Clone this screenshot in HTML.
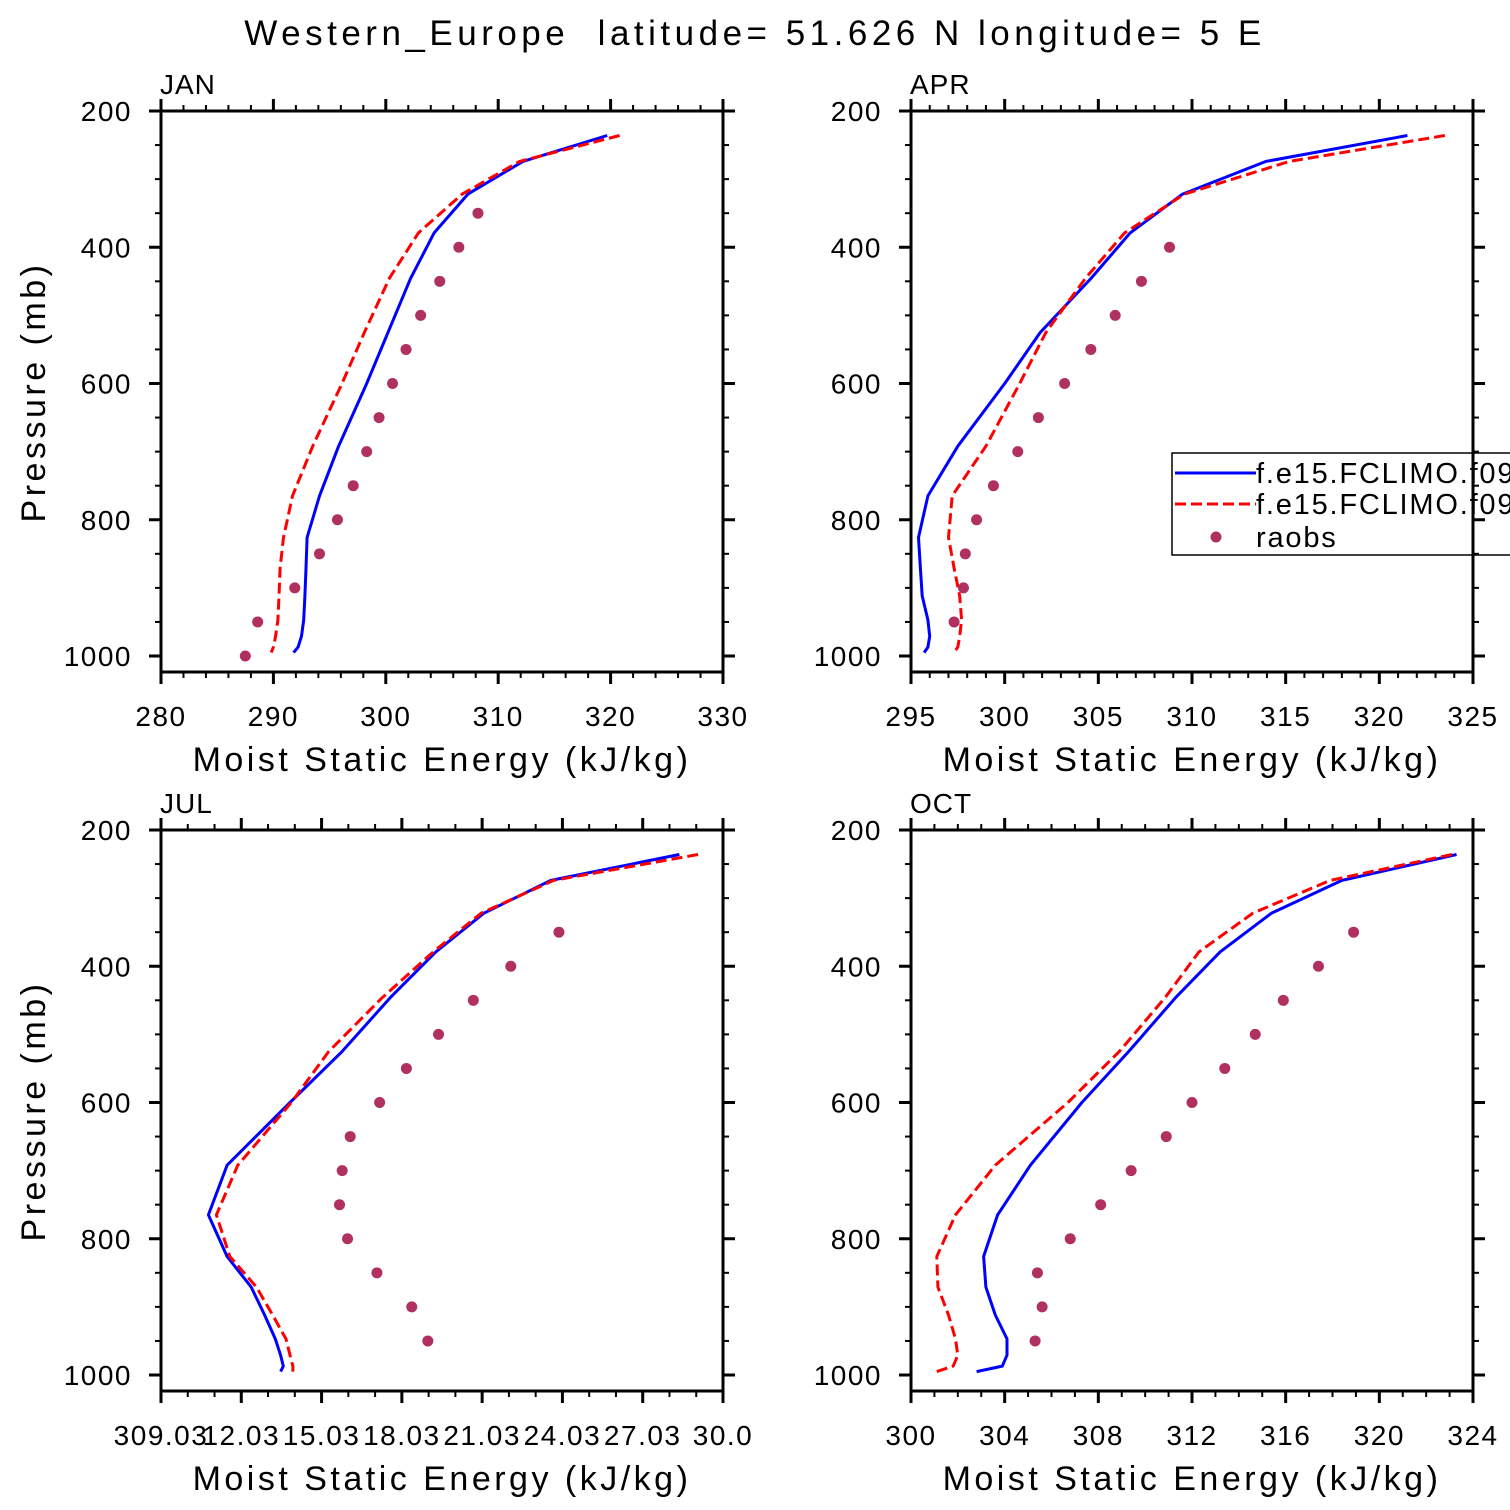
<!DOCTYPE html>
<html><head><meta charset="utf-8"><style>
html,body{margin:0;padding:0;background:#fff;}
svg{display:block;font-family:"Liberation Sans","DejaVu Sans",sans-serif;}
</style></head><body>
<svg id="chart" width="1510" height="1510" viewBox="0 0 1510 1510" xmlns="http://www.w3.org/2000/svg">
<text x="755" y="45" text-anchor="middle" font-size="35" letter-spacing="4.5" style="white-space:pre">Western_Europe  latitude= 51.626 N longitude= 5 E</text>
</svg>
<script>
const levels=[236,274,322,379,446,525,600,692,765,826,871,912,947,971,987,995];
const janBlue=[319.7,312.2,307.3,304.3,302.2,300.2,298.3,295.8,294.1,293.0,292.9,292.8,292.7,292.5,292.2,291.8];
const janRed=[320.8,311.9,306.8,302.9,300.3,298.1,296.1,293.5,291.7,290.9,290.6,290.5,290.4,290.2,290.0,289.8];
const janObsP=[350,400,450,500,550,600,650,700,750,800,850,900,950,1000];
const janObs=[308.2,306.5,304.8,303.1,301.8,300.6,299.4,298.3,297.1,295.7,294.1,291.9,288.6,287.5];
const aprBlue=[321.5,313.95,309.5,306.7,304.6,301.9,300.0,297.5,295.9,295.4,295.5,295.6,295.9,296.0,295.9,295.7];
const aprRed=[323.5,315.2,309.6,306.4,304.3,302.2,300.8,299.0,297.2,297.0,297.3,297.6,297.7,297.6,297.5,297.3];
const aprObsP=[400,450,500,550,600,650,700,750,800,850,900,950];
const aprObs=[308.8,307.3,305.9,304.6,303.2,301.8,300.7,299.4,298.5,297.9,297.8,297.3];
const julBlue=[328.4,323.6,321.1,319.3,317.6,315.8,313.85,311.5,310.8,311.5,312.4,312.9,313.3,313.5,313.6,313.5];
const julRed=[329.1,323.7,321.0,319.2,317.3,315.3,313.9,311.9,311.1,311.6,312.6,313.2,313.7,313.85,313.96,313.96];
const julObsP=[350,400,450,500,550,600,650,700,750,800,850,900,950];
const julObs=[323.9,322.1,320.7,319.4,318.2,317.2,316.1,315.8,315.7,316.0,317.1,318.4,319.0];
const octBlue=[323.3,318.4,315.4,313.2,311.3,309.3,307.3,305.1,303.7,303.1,303.2,303.6,304.1,304.1,303.9,302.8];
const octRed=[323.1,317.9,314.6,312.3,310.85,308.9,306.7,303.6,301.9,301.1,301.15,301.6,301.9,302.0,301.8,301.1];
const octObsP=[350,400,450,500,550,600,650,700,750,800,850,900,950];
const octObs=[318.9,317.4,315.9,314.7,313.4,312.0,310.9,309.4,308.1,306.8,305.4,305.6,305.3];
const yTicks=[200,400,600,800,1000];
const janX=[280,290,300,310,320,330];
const aprX=[295,300,305,310,315,320,325];
const julX=[309.03,312.03,315.03,318.03,321.03,324.03,327.03,330.03];
const julXLabels=["309.03","12.03","15.03","18.03","21.03","24.03","27.03","30.0"];
const octX=[300,304,308,312,316,320,324];

const NS="http://www.w3.org/2000/svg";
const svg=document.getElementById('chart');
function mk(tag,attrs,parent){const e=document.createElementNS(NS,tag);for(const k in attrs)e.setAttribute(k,attrs[k]);(parent||svg).appendChild(e);return e;}

function panel(o){
  const g=mk('g',{});
  
  
  const L=o.x0,R=o.x0+562,T=o.y0,B=o.y0+561;
  const sx=v=>L+(v-o.xmin)/(o.xmax-o.xmin)*562;
  const sy=p=>T+(p-200)*0.68125;
  const line=(vals,color,dash,nm)=>{
    const d=vals.map((v,i)=>(i?'L':'M')+sx(v).toFixed(1)+' '+sy(levels[i]).toFixed(1)).join(' ');
    const p=mk('path',{d:d,fill:'none',stroke:color,'stroke-width':3,'stroke-linejoin':'round'},g);
    if(dash)p.setAttribute('stroke-dasharray','11 5');
    
    
  };
  line(o.blue,'#0000ff',false,o.name+'-model-line-1');
  line(o.red,'#ff0000',true,o.name+'-model-line-2');
  o.obs.forEach((v,i)=>{
    const c=mk('circle',{cx:sx(v),cy:sy(o.obsP[i]),r:5.5,fill:'#b03060'},g);
    
    
  });
  if(o.legend){
    const lg=mk('g',{},g);
    
    
    mk('rect',{x:1172,y:453,width:400,height:102,fill:'#fff',stroke:'#000','stroke-width':1.5},lg);
    mk('line',{x1:1175,y1:473,x2:1256,y2:473,stroke:'#0000ff','stroke-width':3},lg);
    mk('line',{x1:1175,y1:504,x2:1256,y2:504,stroke:'#ff0000','stroke-width':3,'stroke-dasharray':'11 5'},lg);
    mk('circle',{cx:1216,cy:537,r:5.5,fill:'#b03060'},lg);
    const names=['f.e15.FCLIMO.f09','f.e15.FCLIMO.f09','raobs'];
    [483,514,547].forEach((y,i)=>{const t=mk('text',{x:1256,y:y,'font-size':29,'letter-spacing':'1.8'},lg);t.textContent=names[i];
      });
  }
  mk('rect',{x:L,y:T,width:562,height:561,fill:'none',stroke:'#000','stroke-width':3},g);
  for(let p=200;p<=1000;p+=50){
    const y=sy(p), maj=(p%200===0), len=maj?12:6;
    mk('line',{x1:L-len,y1:y,x2:L,y2:y,stroke:'#000','stroke-width':maj?3:2},g);
    mk('line',{x1:R,y1:y,x2:R+len,y2:y,stroke:'#000','stroke-width':maj?3:2},g);
  }
  yTicks.forEach(p=>{const t=mk('text',{x:L-29,y:sy(p)+10,'text-anchor':'end','font-size':28,'letter-spacing':'1.5'},g);t.textContent=p;
    });
  const step=(o.xt[1]-o.xt[0])/o.minor;
  for(let k=0;k<=(o.xt.length-1)*o.minor;k++){
    const v=o.xt[0]+k*step;
    const x=sx(v),maj=(k%o.minor===0),len=maj?12:6;
    mk('line',{x1:x,y1:B,x2:x,y2:B+len,stroke:'#000','stroke-width':maj?3:2},g);
    mk('line',{x1:x,y1:T-len,x2:x,y2:T,stroke:'#000','stroke-width':maj?3:2},g);
  }
  o.xt.forEach((v,i)=>{const t=mk('text',{x:sx(v),y:B+54,'text-anchor':'middle','font-size':28,'letter-spacing':'1.5'},g);
    t.textContent=o.xl?o.xl[i]:v;
    });
  const xt=mk('text',{x:L+281,y:B+99,'text-anchor':'middle','font-size':34,'letter-spacing':'3.5','style':'white-space:pre'},g);
  xt.textContent='Moist Static Energy (kJ/kg)';
  
  const pt=mk('text',{x:L-1,y:T-17,'font-size':28,'letter-spacing':'1'},g);pt.textContent=o.label;
  
  if(o.ytitle){
    const yt=mk('text',{transform:`translate(45,${T+281}) rotate(-90)`,'text-anchor':'middle','font-size':34,'letter-spacing':'3.5'},g);
    yt.textContent='Pressure (mb)';
    
  }
}
panel({name:'jan',label:'JAN',x0:161,y0:111,xmin:280,xmax:330,xt:janX,minor:5,blue:janBlue,red:janRed,obs:janObs,obsP:janObsP,ytitle:true});
panel({name:'apr',label:'APR',x0:911,y0:111,xmin:295,xmax:325,xt:aprX,minor:5,blue:aprBlue,red:aprRed,obs:aprObs,obsP:aprObsP,legend:true});
panel({name:'jul',label:'JUL',x0:161,y0:830,xmin:309.03,xmax:330.03,xt:julX,xl:julXLabels,minor:3,blue:julBlue,red:julRed,obs:julObs,obsP:julObsP,ytitle:true});
panel({name:'oct',label:'OCT',x0:911,y0:830,xmin:300,xmax:324,xt:octX,minor:4,blue:octBlue,red:octRed,obs:octObs,obsP:octObsP});
</script>
</body></html>
